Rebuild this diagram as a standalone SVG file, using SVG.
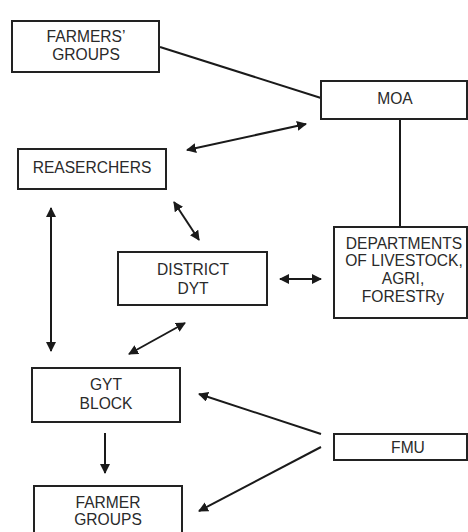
<svg xmlns="http://www.w3.org/2000/svg" width="468" height="532" viewBox="0 0 468 532">
  <style>
    .box { fill: #fff; stroke: #222; stroke-width: 2; }
    .lbl { font-family: "Liberation Sans", Arial, sans-serif; font-size: 15.6px; fill: #2a2a2a; text-anchor: middle; }
    .link { stroke: #1a1a1a; stroke-width: 2; fill: none; }
    .arr { stroke: #1a1a1a; stroke-width: 2; fill: none; marker-end: url(#head); }
    .bi { stroke: #1a1a1a; stroke-width: 2; fill: none; marker-start: url(#tail); marker-end: url(#head); }
  </style>
  <defs>
    <marker id="head" viewBox="0 0 10 10" refX="9" refY="5" markerWidth="5" markerHeight="5" orient="auto" markerUnits="strokeWidth">
      <path d="M0,0 L10,5 L0,10 z" fill="#1a1a1a"/>
    </marker>
    <marker id="tail" viewBox="0 0 10 10" refX="1" refY="5" markerWidth="5" markerHeight="5" orient="auto" markerUnits="strokeWidth">
      <path d="M10,0 L0,5 L10,10 z" fill="#1a1a1a"/>
    </marker>
  </defs>
  <rect width="468" height="532" fill="#fff"/>

  <g id="connectors">
    <line class="link" x1="160" y1="47" x2="321" y2="98"/>
    <line class="link" x1="400" y1="119" x2="400" y2="227"/>
    <line class="bi" x1="187" y1="150" x2="306" y2="124"/>
    <line class="bi" x1="174" y1="202" x2="199" y2="240"/>
    <line class="bi" x1="51" y1="208" x2="51" y2="351"/>
    <line class="bi" x1="280" y1="279" x2="321" y2="279"/>
    <line class="bi" x1="129" y1="354" x2="185" y2="323"/>
    <line class="arr" x1="105" y1="433" x2="105" y2="473"/>
    <line class="arr" x1="321" y1="434" x2="199" y2="394"/>
    <line class="arr" x1="321" y1="447" x2="199" y2="511"/>
  </g>

  <g id="farmers-groups">
    <rect class="box" x="12" y="21" width="147" height="51"/>
    <text class="lbl" x="86" y="42">FARMERS’</text>
    <text class="lbl" x="86" y="60">GROUPS</text>
  </g>

  <g id="moa">
    <rect class="box" x="321" y="81" width="146" height="38"/>
    <text class="lbl" x="395" y="104">MOA</text>
  </g>

  <g id="researchers">
    <rect class="box" x="18" y="149" width="148" height="40"/>
    <text class="lbl" x="92" y="173">REASERCHERS</text>
  </g>

  <g id="departments">
    <rect class="box" x="334" y="227" width="133" height="91"/>
    <text class="lbl" x="404" y="249">DEPARTMENTS</text>
    <text class="lbl" x="404" y="266">OF LIVESTOCK,</text>
    <text class="lbl" x="403" y="284">AGRI,</text>
    <text class="lbl" x="403" y="302">FORESTRy</text>
  </g>

  <g id="district-dyt">
    <rect class="box" x="118" y="252" width="149" height="53"/>
    <text class="lbl" x="193" y="275">DISTRICT</text>
    <text class="lbl" x="193" y="294">DYT</text>
  </g>

  <g id="gyt-block">
    <rect class="box" x="32" y="368" width="148" height="54"/>
    <text class="lbl" x="106" y="390">GYT</text>
    <text class="lbl" x="106" y="409">BLOCK</text>
  </g>

  <g id="fmu">
    <rect class="box" x="334" y="434" width="133" height="26"/>
    <text class="lbl" x="408" y="453">FMU</text>
  </g>

  <g id="farmer-groups">
    <rect class="box" x="34" y="486" width="148" height="52"/>
    <text class="lbl" x="108" y="508">FARMER</text>
    <text class="lbl" x="108" y="525">GROUPS</text>
  </g>
</svg>
